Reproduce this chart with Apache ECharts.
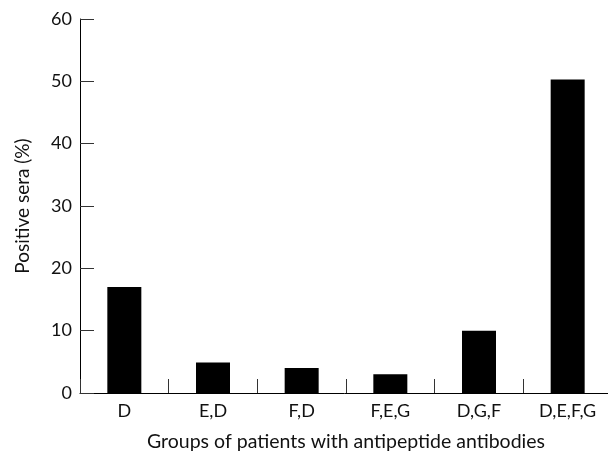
<!DOCTYPE html>
<html>
<head>
<meta charset="utf-8">
<script src="https://cdn.jsdelivr.net/npm/echarts@6/dist/echarts.min.js"></script>
<style>html,body{margin:0;padding:0;background:#fff}#c{width:608px;height:453px}</style>
</head>
<body>
<div id="c"></div>
<script>
var categories = ['D', 'E,D', 'F,D', 'F,E,G', 'D,G,F', 'D,E,F,G'];
var values = [17, 4.9, 4, 3, 10, 50.3];
var yTicks = [0, 10, 20, 30, 40, 50, 60];
var xTitle = 'Groups of patients with antipeptide antibodies';
var yTitle = 'Positive sera (%)';

var font = 'Lato';
var chart = echarts.init(document.getElementById('c'), null, {renderer: 'canvas'});
chart.setOption({
  animation: false,
  backgroundColor: '#fff',
  grid: {left: 80, right: -4, top: 19, bottom: 60, containLabel: false, outerBoundsMode: 'none'},
  xAxis: {
    type: 'category',
    data: categories,
    name: xTitle,
    nameLocation: 'middle',
    nameGap: 39,
    nameTextStyle: {fontFamily: font, fontSize: 19.5, color: '#111'},
    axisLine: {show: true, lineStyle: {color: '#000', width: 1}},
    axisTick: {show: true, inside: true, length: 14, lineStyle: {color: '#333', width: 1}},
    axisLabel: {fontFamily: font, fontSize: 18, color: '#111', margin: 9},
    splitLine: {show: false}
  },
  yAxis: {
    type: 'value',
    min: yTicks[0],
    max: yTicks[yTicks.length - 1],
    interval: yTicks[1] - yTicks[0],
    name: yTitle,
    nameLocation: 'middle',
    nameGap: 48,
    nameTextStyle: {fontFamily: font, fontSize: 19, color: '#111'},
    axisLine: {show: true, lineStyle: {color: '#000', width: 1}},
    axisTick: {show: true, inside: true, length: 14, lineStyle: {color: '#333', width: 1}},
    axisLabel: {fontFamily: font, fontSize: 18, color: '#111', margin: 8},
    splitLine: {show: false}
  },
  series: [{
    type: 'bar',
    data: values,
    barWidth: 34,
    itemStyle: {color: '#000'}
  }]
});
</script>
</body>
</html>
